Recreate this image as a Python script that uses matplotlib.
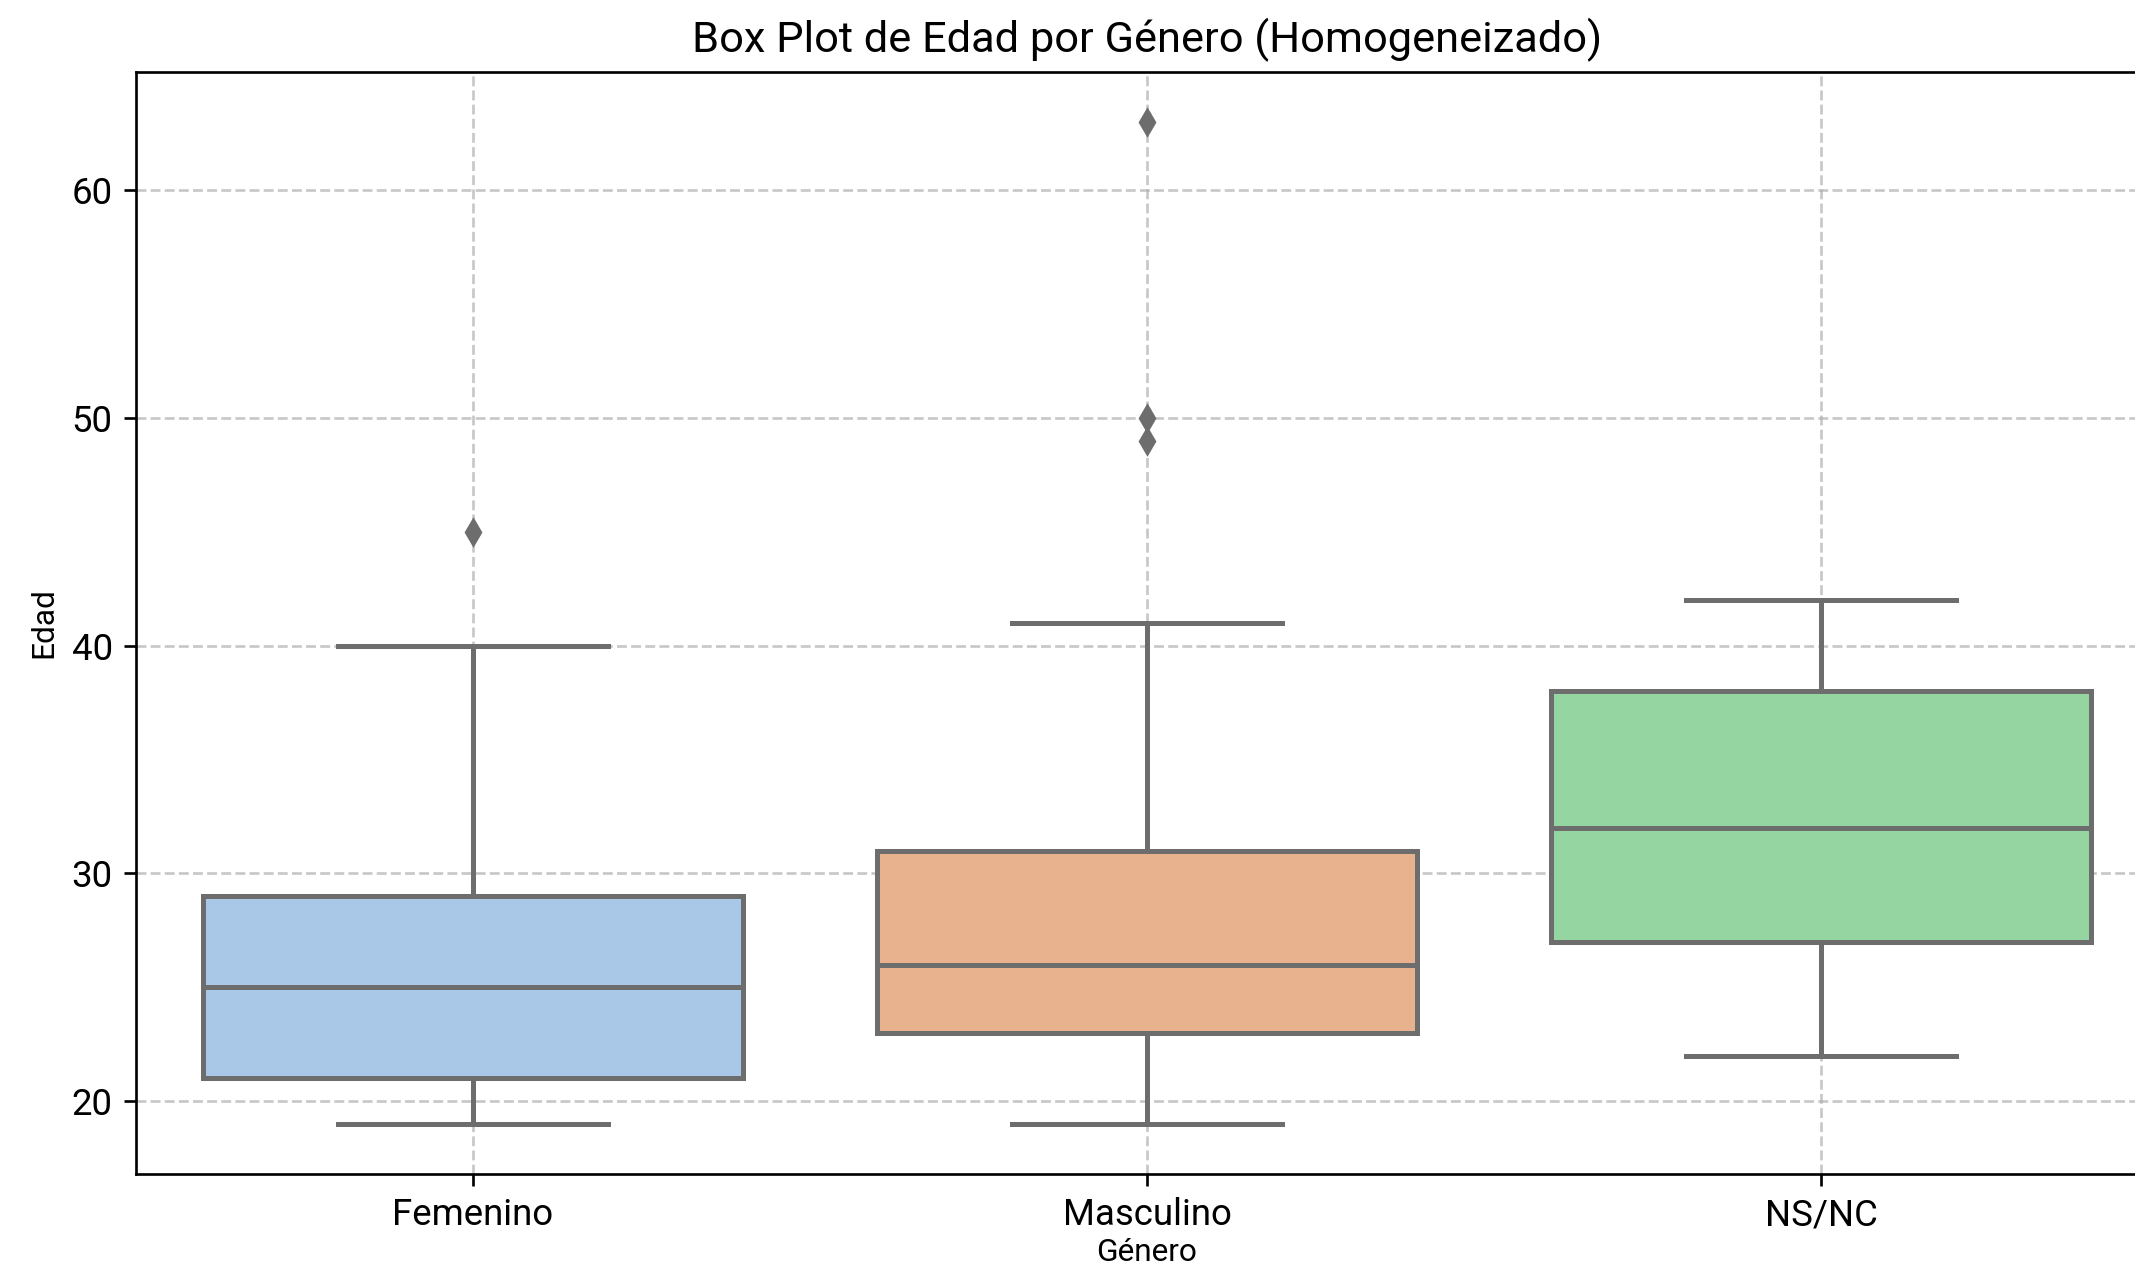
import matplotlib
matplotlib.use("Agg")
import matplotlib.pyplot as plt

categories = ["Femenino", "Masculino", "NS/NC"]
whisker_low = [19, 19, 22]
q1 = [21, 23, 27]
median = [25, 26, 32]
q3 = [29, 31, 38]
whisker_high = [40, 41, 42]
outliers = [[45], [49, 50, 63], []]

colors = ["#a9c7e7", "#e9b28e", "#95d5a2"]
line_gray = "#6d6d6d"

plt.rcParams["font.family"] = ["Roboto", "DejaVu Sans"]

fig = plt.figure(figsize=(2135 / 240, 1271 / 240), dpi=240)
ax = fig.add_axes([136 / 2135, 97 / 1271, 2022 / 2135, 1102 / 1271])

stats = []
for i, cat in enumerate(categories):
    stats.append(dict(label=cat, whislo=whisker_low[i], q1=q1[i], med=median[i],
                      q3=q3[i], whishi=whisker_high[i], fliers=outliers[i]))

bp = ax.bxp(stats, positions=range(len(categories)), widths=0.8, patch_artist=True,
            showfliers=True, manage_ticks=False,
            boxprops=dict(edgecolor=line_gray, linewidth=1.5),
            medianprops=dict(color=line_gray, linewidth=1.5),
            whiskerprops=dict(color=line_gray, linewidth=1.5),
            capprops=dict(color=line_gray, linewidth=1.5),
            flierprops=dict(marker="d", markerfacecolor=line_gray, markeredgecolor=line_gray,
                            markersize=5, linestyle="none"))
for patch, c in zip(bp["boxes"], colors):
    patch.set_facecolor(c)
for cap in bp["caps"]:
    x0, x1 = cap.get_xdata()
    xc = (x0 + x1) / 2
    cap.set_xdata([xc - 0.2, xc + 0.2])

ax.set_xlim(-0.5, 2.5)
ax.set_ylim(16.8, 65.2)
ax.set_xticks(range(len(categories)))
ax.set_xticklabels(categories, fontsize=11)
ax.set_yticks([20, 30, 40, 50, 60])
ax.tick_params(axis="y", labelsize=11)
ax.grid(True, linestyle="--", alpha=0.7)
ax.set_axisbelow(True)
ax.set_xlabel("Género", fontsize=9.5, labelpad=1.5)
ax.set_ylabel("Edad", fontsize=9.5)
ax.set_title("Box Plot de Edad por Género (Homogeneizado)", fontsize=13)

fig.savefig("out.png", dpi=240)
